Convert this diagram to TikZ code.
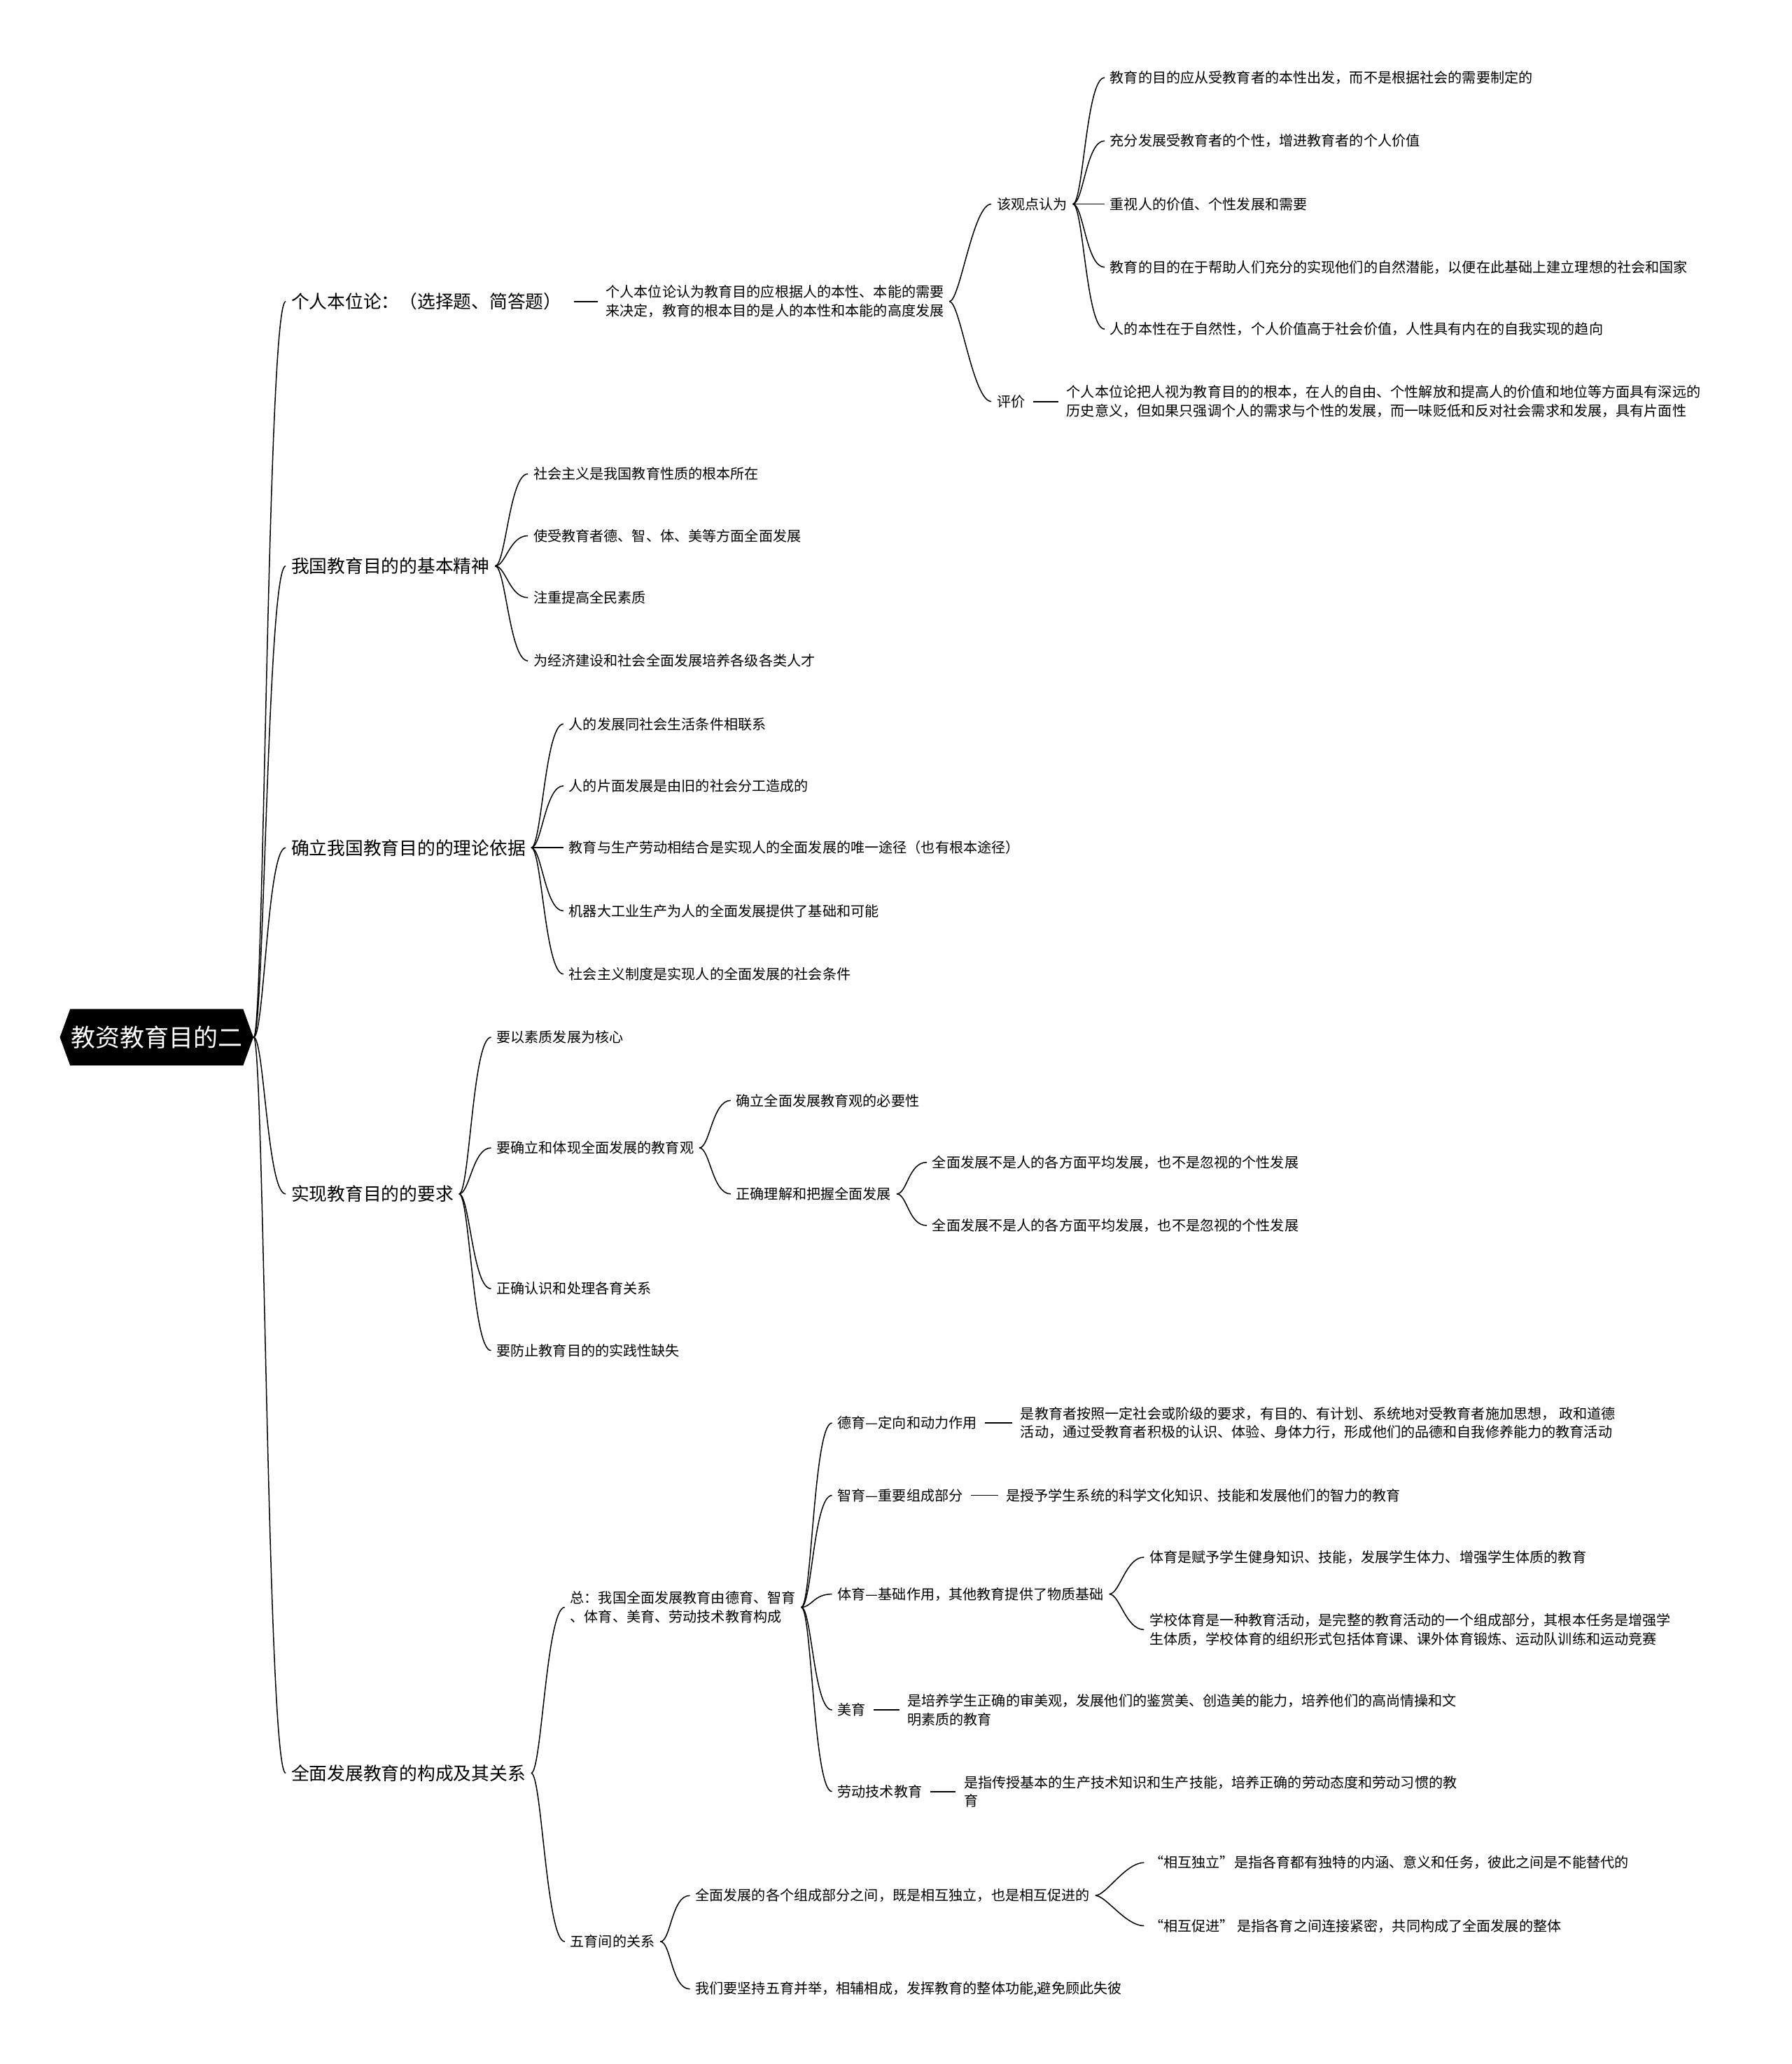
\documentclass[tikz,border=0pt]{standalone}
\usepackage{fontspec}
\setmainfont{Noto Sans CJK SC}
\usetikzlibrary{shapes.symbols}

\begin{document}
\begin{tikzpicture}[x=1pt,y=-1pt,
  root/.style={shape=signal, signal to=west and east, signal pointer angle=140,
    fill=black, text=white, minimum width=147pt, minimum height=43pt, inner sep=0pt,
    font=\fontsize{18.6}{22}\selectfont},
  topic/.style={anchor=west, inner xsep=4pt, font=\fontsize{13.7}{16}\selectfont},
  leaf/.style={anchor=west, inner xsep=4pt, align=left, font=\fontsize{10.7}{14.2}\selectfont},
  link/.style={line width=0.8pt},
  dashln/.style={line width=1pt, shorten <=2pt, shorten >=2pt},
  branch/.style={to path={.. controls ([xshift=8pt]\tikztostart) and ([xshift=-14pt]\tikztotarget) .. (\tikztotarget)}}]
\useasboundingbox (0,0) rectangle (1361,1568);

% draw the root
\node[root] (root) at (119,788) {教资教育目的二};

% draw the main topics
\node[topic] (ind) at (217,229) {个人本位论：（选择题、简答题）};
\node[topic] (spirit) at (217,430) {我国教育目的的基本精神};
\node[topic] (basis) at (217,644) {确立我国教育目的的理论依据};
\node[topic] (req) at (217,907) {实现教育目的的要求};
\node[topic] (comp) at (217,1347) {全面发展教育的构成及其关系};
\foreach \t in {ind,spirit,basis,req,comp}
\draw[link] (root.east) to[branch] (\t.west);

% draw the individual standard branch
\node[leaf] (indDef) at (456,229) {个人本位论认为教育目的应根据人的本性、本能的需要\\来决定，教育的根本目的是人的本性和本能的高度发展};
\draw[dashln, shorten <=5pt] (ind.east) -- (indDef.west);
\node[leaf] (view) at (753,155) {该观点认为};
\node[leaf] (eval) at (753,305) {评价};
\foreach \t in {view,eval}
\draw[link] (indDef.east) to[branch] (\t.west);
\node[leaf] (view1) at (839,59) {教育的目的应从受教育者的本性出发，而不是根据社会的需要制定的};
\node[leaf] (view2) at (839,107) {充分发展受教育者的个性，增进教育者的个人价值};
\node[leaf] (view3) at (839,155) {重视人的价值、个性发展和需要};
\node[leaf] (view4) at (839,203) {教育的目的在于帮助人们充分的实现他们的自然潜能，以便在此基础上建立理想的社会和国家};
\node[leaf] (view5) at (839,250) {人的本性在于自然性，个人价值高于社会价值，人性具有内在的自我实现的趋向};
\foreach \t in {view1,view2,view3,view4,view5}
\draw[link] (view.east) to[branch] (\t.west);
\node[leaf] (evalText) at (806,305) {个人本位论把人视为教育目的的根本，在人的自由、个性解放和提高人的价值和地位等方面具有深远的\\历史意义，但如果只强调个人的需求与个性的发展，而一味贬低和反对社会需求和发展，具有片面性};
\draw[dashln] (eval.east) -- (evalText.west);

% draw the basic spirit
\node[leaf] (sp1) at (401,360) {社会主义是我国教育性质的根本所在};
\node[leaf] (sp2) at (401,407) {使受教育者德、智、体、美等方面全面发展};
\node[leaf] (sp3) at (401,454) {注重提高全民素质};
\node[leaf] (sp4) at (401,502) {为经济建设和社会全面发展培养各级各类人才};
\foreach \t in {sp1,sp2,sp3,sp4}
\draw[link] (spirit.east) to[branch] (\t.west);

% draw the theoretical basis
\node[leaf] (ba1) at (428,550) {人的发展同社会生活条件相联系};
\node[leaf] (ba2) at (428,597) {人的片面发展是由旧的社会分工造成的};
\node[leaf] (ba3) at (428,644) {教育与生产劳动相结合是实现人的全面发展的唯一途径（也有根本途径）};
\node[leaf] (ba4) at (428,692) {机器大工业生产为人的全面发展提供了基础和可能};
\node[leaf] (ba5) at (428,740) {社会主义制度是实现人的全面发展的社会条件};
\foreach \t in {ba1,ba2,ba3,ba4,ba5}
\draw[link] (basis.east) to[branch] (\t.west);

% draw the requirements
\node[leaf] (rq1) at (373,788) {要以素质发展为核心};
\node[leaf] (rq2) at (373,872) {要确立和体现全面发展的教育观};
\node[leaf] (rq3) at (373,979) {正确认识和处理各育关系};
\node[leaf] (rq4) at (373,1026) {要防止教育目的的实践性缺失};
\foreach \t in {rq1,rq2,rq3,rq4}
\draw[link] (req.east) to[branch] (\t.west);
\node[leaf] (need) at (555,836) {确立全面发展教育观的必要性};
\node[leaf] (grasp) at (555,907) {正确理解和把握全面发展};
\foreach \t in {need,grasp}
\draw[link] (rq2.east) to[branch] (\t.west);
\node[leaf] (gr1) at (704,883) {全面发展不是人的各方面平均发展，也不是忽视的个性发展};
\node[leaf] (gr2) at (704,931) {全面发展不是人的各方面平均发展，也不是忽视的个性发展};
\foreach \t in {gr1,gr2}
\draw[link] (grasp.east) to[branch] (\t.west);

% draw the composition of all-round education
\node[leaf] (total) at (429,1221) {总：我国全面发展教育由德育、智育\\、体育、美育、劳动技术教育构成};
\node[leaf] (five) at (429,1475) {五育间的关系};
\foreach \t in {total,five}
\draw[link] (comp.east) to[branch] (\t.west);
\node[leaf] (moral) at (632,1081) {德育—定向和动力作用};
\node[leaf] (intel) at (632,1136) {智育—重要组成部分};
\node[leaf] (phys) at (632,1211) {体育—基础作用，其他教育提供了物质基础};
\node[leaf] (aest) at (632,1299) {美育};
\node[leaf] (labor) at (632,1361) {劳动技术教育};
\foreach \t in {moral,intel,phys,aest,labor}
\draw[link] (total.east) to[branch] (\t.west);
\node[leaf] (moralText) at (771,1081) {是教育者按照一定社会或阶级的要求，有目的、有计划、系统地对受教育者施加思想， 政和道德\\活动，通过受教育者积极的认识、体验、身体力行，形成他们的品德和自我修养能力的教育活动};
\draw[dashln] (moral.east) -- (moralText.west);
\node[leaf] (intelText) at (760,1136) {是授予学生系统的科学文化知识、技能和发展他们的智力的教育};
\draw[dashln] (intel.east) -- (intelText.west);
\node[leaf] (ph1) at (869,1183) {体育是赋予学生健身知识、技能，发展学生体力、增强学生体质的教育};
\node[leaf] (ph2) at (869,1238) {学校体育是一种教育活动，是完整的教育活动的一个组成部分，其根本任务是增强学\\生体质，学校体育的组织形式包括体育课、课外体育锻炼、运动队训练和运动竞赛};
\foreach \t in {ph1,ph2}
\draw[link] (phys.east) to[branch] (\t.west);
\node[leaf] (aestText) at (685,1299) {是培养学生正确的审美观，发展他们的鉴赏美、创造美的能力，培养他们的高尚情操和文\\明素质的教育};
\draw[dashln] (aest.east) -- (aestText.west);
\node[leaf] (laborText) at (728,1361) {是指传授基本的生产技术知识和生产技能，培养正确的劳动态度和劳动习惯的教\\育};
\draw[dashln] (labor.east) -- (laborText.west);

% draw the relation of the five
\node[leaf] (rel) at (524,1440) {全面发展的各个组成部分之间，既是相互独立，也是相互促进的};
\node[leaf] (keep) at (524,1511) {我们要坚持五育并举，相辅相成，发挥教育的整体功能,避免顾此失彼};
\foreach \t in {rel,keep}
\draw[link] (five.east) to[branch] (\t.west);
\node[leaf] (indep) at (869,1415) {“相互独立”是指各育都有独特的内涵、意义和任务，彼此之间是不能替代的};
\node[leaf] (promo) at (869,1463) {“相互促进” 是指各育之间连接紧密，共同构成了全面发展的整体};
\foreach \t in {indep,promo}
\draw[link] (rel.east) to[branch] (\t.west);
\end{tikzpicture}
\end{document}
